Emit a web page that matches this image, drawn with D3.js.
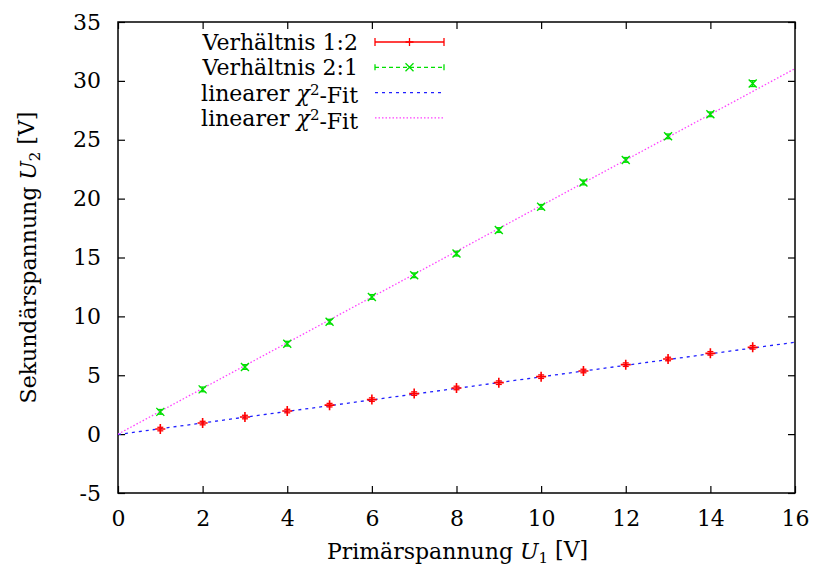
<!DOCTYPE html>
<html>
<head>
<meta charset="utf-8">
<script src="https://cdn.jsdelivr.net/npm/d3@7"></script>
<style>
  body { margin: 0; background: #fff; }
  svg { display: block; }
  text { font-family: "DejaVu Serif", "Liberation Serif", serif; fill: #000; }
</style>
</head>
<body>
<svg id="chart" width="816" height="573"></svg>
<script>
//
// Data
//

var u1 = [1, 2, 3, 4, 5, 6, 7, 8, 9, 10, 11, 12, 13, 14, 15]
// Verhältnis 1:2
var u2a = [0.43, 0.94, 1.45, 1.96, 2.46, 2.93, 3.44, 3.92, 4.37, 4.88, 5.36, 5.9, 6.38, 6.86, 7.37]
var erra = [0.15, 0.15, 0.15, 0.15, 0.15, 0.15, 0.15, 0.15, 0.15, 0.15, 0.15, 0.15, 0.15, 0.15, 0.15]
// Verhältnis 2:1
var u2b = [1.89, 3.8, 5.7, 7.68, 9.55, 11.65, 13.49, 15.33, 17.33, 19.3, 21.37, 23.29, 25.29, 27.16, 29.77]
var errb = [0.2, 0.2, 0.2, 0.2, 0.2, 0.2, 0.2, 0.2, 0.2, 0.2, 0.2, 0.2, 0.2, 0.2, 0.25]
// fit parameters (slope, intercept)
var fitA = [0.4895, -0.03]
var fitB = [1.94, 0.0]

var xTicks = [0, 2, 4, 6, 8, 10, 12, 14, 16]
var yTicks = [-5, 0, 5, 10, 15, 20, 25, 30, 35]
var legendLabels = ['Verhältnis 1:2', 'Verhältnis 2:1', 'linearer χ²-Fit', 'linearer χ²-Fit']

//
// Layout
//

var margin = { left: 118, top: 22, right: 21, bottom: 80 }
var width = 816 - margin.left - margin.right
var height = 573 - margin.top - margin.bottom
var tickLen = 7
var fontSize = 22

var svg = d3.select('#chart')
var g = svg.append('g').attr('transform', 'translate(' + margin.left + ',' + margin.top + ')')

var x = d3.scaleLinear().domain([0, 16]).range([0, width])
var y = d3.scaleLinear().domain([-5, 35]).range([height, 0])

g.append('clipPath').attr('id', 'clip')
  .append('rect').attr('width', width).attr('height', height)

//
// Axes
//

function tickStyle(sel) {
  sel.select('.domain').remove()
  sel.selectAll('line').attr('stroke', '#000').attr('stroke-width', 1.2)
  sel.selectAll('text')
    .style('font-size', fontSize + 'px')
}

g.append('g').attr('transform', 'translate(0,' + height + ')')
  .call(d3.axisBottom(x).tickValues(xTicks).tickSizeInner(-tickLen).tickSizeOuter(0).tickPadding(17)
    .tickFormat(d => String(d)))
  .call(tickStyle)
g.append('g')
  .call(d3.axisTop(x).tickValues(xTicks).tickSizeInner(-tickLen).tickSizeOuter(0).tickFormat(''))
  .call(tickStyle)
g.append('g')
  .call(d3.axisLeft(y).tickValues(yTicks).tickSizeInner(-tickLen).tickSizeOuter(0).tickPadding(17)
    .tickFormat(d => String(d)))
  .call(tickStyle)
g.append('g').attr('transform', 'translate(' + width + ',0)')
  .call(d3.axisRight(y).tickValues(yTicks).tickSizeInner(-tickLen).tickSizeOuter(0).tickFormat(''))
  .call(tickStyle)

g.append('rect')
  .attr('width', width).attr('height', height)
  .attr('fill', 'none').attr('stroke', '#000').attr('stroke-width', 1.5)

//
// Fit lines
//

var line = d3.line().x(d => x(d[0])).y(d => y(d[1]))
var plot = g.append('g').attr('clip-path', 'url(#clip)')

function fitLine(p, color, dash) {
  var pts = [0, 16].map(v => [v, p[0] * v + p[1]])
  plot.append('path')
    .attr('d', line(pts))
    .attr('fill', 'none')
    .attr('stroke', color)
    .attr('stroke-width', 1.3)
    .attr('stroke-dasharray', dash)
}

fitLine(fitA, '#2020ff', '3,4')
fitLine(fitB, '#ff40ff', '1.5,2')

//
// Points with error bars
//

function errorBars(xs, ys, es, color) {
  var grp = plot.append('g').attr('stroke', color).attr('stroke-width', 1.3)
  xs.forEach(function (v, i) {
    var px = x(v), y0 = y(ys[i] - es[i]), y1 = y(ys[i] + es[i])
    grp.append('line').attr('x1', px).attr('x2', px).attr('y1', y0).attr('y2', y1)
    grp.append('line').attr('x1', px - 3).attr('x2', px + 3).attr('y1', y0).attr('y2', y0)
    grp.append('line').attr('x1', px - 3).attr('x2', px + 3).attr('y1', y1).attr('y2', y1)
  })
}

function plusMark(sel, px, py, s) {
  sel.append('path').attr('d', 'M' + (px - s) + ',' + py + 'H' + (px + s) + 'M' + px + ',' + (py - s) + 'V' + (py + s))
}
function crossMark(sel, px, py, s) {
  sel.append('path').attr('d', 'M' + (px - s) + ',' + (py - s) + 'L' + (px + s) + ',' + (py + s) +
    'M' + (px - s) + ',' + (py + s) + 'L' + (px + s) + ',' + (py - s))
}

errorBars(u1, u2a, erra, '#ff0000')
errorBars(u1, u2b, errb, '#00e000')

var markA = plot.append('g').attr('stroke', '#ff0000').attr('stroke-width', 1.6).attr('fill', 'none')
u1.forEach((v, i) => plusMark(markA, x(v), y(u2a[i]), 5))
var markB = plot.append('g').attr('stroke', '#00e000').attr('stroke-width', 1.4).attr('fill', 'none')
u1.forEach((v, i) => crossMark(markB, x(v), y(u2b[i]), 4))

//
// Legend
//

var legX = 358 - margin.left, legY0 = 42 - margin.top, legDy = 25.3
var s0 = 375 - margin.left, s1 = 444 - margin.left, sm = (s0 + s1) / 2
var leg = g.append('g')

legendLabels.forEach(function (lab, i) {
  var t = leg.append('text')
    .attr('x', legX).attr('y', legY0 + i * legDy)
    .attr('dy', '0.36em')
    .attr('text-anchor', 'end')
    .style('font-size', fontSize + 'px')
  if (lab.indexOf('χ²') >= 0) {
    t.append('tspan').text('linearer ')
    t.append('tspan').style('font-style', 'italic').text('χ')
    t.append('tspan').attr('dy', '-0.4em').style('font-size', '15px').text('2')
    t.append('tspan').attr('dy', '0.4em').text('-Fit')
  } else {
    t.text(lab)
  }
})

var ly = i => legY0 + i * legDy
// row 1: red errorbar sample
var l1 = leg.append('g').attr('stroke', '#ff0000').attr('stroke-width', 1.3).attr('fill', 'none')
l1.append('line').attr('x1', s0).attr('x2', s1).attr('y1', ly(0)).attr('y2', ly(0))
l1.append('line').attr('x1', s0).attr('x2', s0).attr('y1', ly(0) - 4).attr('y2', ly(0) + 4)
l1.append('line').attr('x1', s1).attr('x2', s1).attr('y1', ly(0) - 4).attr('y2', ly(0) + 4)
plusMark(l1, sm, ly(0), 4)
// row 2: green dashed errorbar sample
var l2 = leg.append('g').attr('stroke', '#00e000').attr('stroke-width', 1.3).attr('fill', 'none')
l2.append('line').attr('x1', s0).attr('x2', s1).attr('y1', ly(1)).attr('y2', ly(1)).attr('stroke-dasharray', '4,3')
l2.append('line').attr('x1', s0).attr('x2', s0).attr('y1', ly(1) - 3).attr('y2', ly(1) + 3)
l2.append('line').attr('x1', s1).attr('x2', s1).attr('y1', ly(1) - 3).attr('y2', ly(1) + 3)
crossMark(l2, sm, ly(1), 4)
// rows 3, 4: fit lines
leg.append('line').attr('x1', s0).attr('x2', s1).attr('y1', ly(2)).attr('y2', ly(2))
  .attr('stroke', '#2020ff').attr('stroke-width', 1.3).attr('stroke-dasharray', '3,4')
leg.append('line').attr('x1', s0).attr('x2', s1).attr('y1', ly(3)).attr('y2', ly(3))
  .attr('stroke', '#ff40ff').attr('stroke-width', 1.3).attr('stroke-dasharray', '1.5,2')

//
// Axis labels
//

var xl = svg.append('text')
  .attr('x', margin.left + width / 2 + 1).attr('y', 559)
  .attr('text-anchor', 'middle')
  .style('font-size', fontSize + 'px')
xl.append('tspan').text('Primärspannung ')
xl.append('tspan').style('font-style', 'italic').text('U')
xl.append('tspan').attr('dy', '0.25em').style('font-size', '15px').text('1')
xl.append('tspan').attr('dy', '-0.25em').text(' [V]')

var yl = svg.append('text')
  .attr('transform', 'translate(36,' + (margin.top + height / 2) + ') rotate(-90)')
  .attr('text-anchor', 'middle')
  .style('font-size', fontSize + 'px')
yl.append('tspan').text('Sekundärspannung ')
yl.append('tspan').style('font-style', 'italic').text('U')
yl.append('tspan').attr('dy', '0.25em').style('font-size', '15px').text('2')
yl.append('tspan').attr('dy', '-0.25em').text(' [V]')
</script>
</body>
</html>
